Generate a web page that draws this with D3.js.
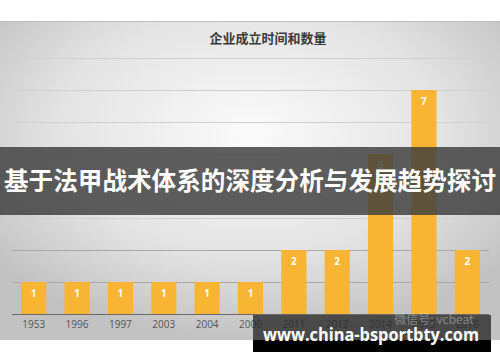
<!DOCTYPE html>
<html lang="zh">
<head>
<meta charset="utf-8">
<title>企业成立时间和数量</title>
<script src="https://cdn.jsdelivr.net/npm/d3@7/dist/d3.min.js"></script>
<style>
  body { margin: 0; background: #fff; }
  svg { display: block; }
</style>
</head>
<body>
<script>
// data
var years = ["1953", "1996", "1997", "2003", "2004", "2006", "2011", "2012", "2014", "2015", "2016"];
var counts = [1, 1, 1, 1, 1, 1, 2, 2, 5, 7, 2];
var yTicks = [0, 1, 2, 3, 4, 5, 6, 7, 8];

var W = 500, H = 362;
var cjk = "'Noto Sans CJK SC', 'Noto Sans', sans-serif";

var svg = d3.select("body").append("svg")
    .attr("width", W)
    .attr("height", H);

var defs = svg.append("defs");
var grad = defs.append("radialGradient")
    .attr("id", "panelBg")
    .attr("cx", "50%").attr("cy", "35%").attr("r", "65%");
grad.append("stop").attr("offset", "0%").attr("stop-color", "#fbfbfb");
grad.append("stop").attr("offset", "60%").attr("stop-color", "#e3e3e3");
grad.append("stop").attr("offset", "100%").attr("stop-color", "#c2c2c2");

// chart panel
svg.append("rect")
    .attr("x", 0).attr("y", 21)
    .attr("width", W).attr("height", 319)
    .attr("fill", "url(#panelBg)");
svg.append("line")
    .attr("x1", 0).attr("x2", W)
    .attr("y1", 21.5).attr("y2", 21.5)
    .attr("stroke", "#bdbdbd");

// title
svg.append("text")
    .attr("x", 268).attr("y", 43)
    .attr("text-anchor", "middle")
    .style("font-family", cjk)
    .style("font-size", "13px")
    .style("font-weight", "bold")
    .style("fill", "#3a3a3a")
    .text("企业成立时间和数量");

// scales
var x = d3.scaleBand()
    .domain(years)
    .range([12, 489])
    .paddingInner(0.42)
    .paddingOuter(0.21);

var y = d3.scaleLinear()
    .domain([0, 8])
    .range([314, 58]);

// grid
svg.append("g")
    .selectAll("line")
    .data(yTicks.slice(1))
    .enter().append("line")
    .attr("x1", 12).attr("x2", 489)
    .attr("y1", function(d) { return Math.round(y(d)) + 0.5; })
    .attr("y2", function(d) { return Math.round(y(d)) + 0.5; })
    .attr("stroke", function(d) { return d < 3 ? "#a8a8a8" : "#cfcfcf"; })
    .attr("stroke-width", 1);

// bars
svg.append("g")
    .selectAll("rect")
    .data(counts)
    .enter().append("rect")
    .attr("x", function(d, i) { return x(years[i]); })
    .attr("y", function(d) { return y(d); })
    .attr("width", x.bandwidth())
    .attr("height", function(d) { return y(0) - y(d); })
    .attr("fill", "#f8b534");

// value labels
svg.append("g")
    .selectAll("text")
    .data(counts)
    .enter().append("text")
    .attr("x", function(d, i) { return x(years[i]) + x.bandwidth() / 2; })
    .attr("y", function(d) { return y(d) + 15; })
    .attr("text-anchor", "middle")
    .style("font-family", "'Open Sans', sans-serif")
    .style("font-size", "10px")
    .style("font-weight", "bold")
    .style("fill", "#fff")
    .text(function(d) { return d; });

// x axis
var xAxis = svg.append("g")
    .attr("transform", "translate(0," + y(0) + ")")
    .call(d3.axisBottom(x).tickSize(0).tickPadding(7));
xAxis.select(".domain")
    .attr("d", "M12,0.5H489")
    .attr("stroke", "#6a6a6a")
    .attr("stroke-width", 1.2);
xAxis.selectAll("text")
    .style("font-family", "'Open Sans', sans-serif")
    .style("font-size", "10px")
    .style("fill", "#555");

// banner overlay
svg.append("rect")
    .attr("x", 0).attr("y", 147)
    .attr("width", W).attr("height", 68)
    .attr("fill", "#3c3c3c")
    .attr("fill-opacity", 0.82);
svg.append("text")
    .attr("x", W / 2).attr("y", 190)
    .attr("text-anchor", "middle")
    .attr("textLength", 492)
    .attr("lengthAdjust", "spacingAndGlyphs")
    .style("font-family", cjk)
    .style("font-size", "25px")
    .style("font-weight", "bold")
    .style("fill", "#fff")
    .text("基于法甲战术体系的深度分析与发展趋势探讨");

// bottom watermark
svg.append("rect")
    .attr("x", 253).attr("y", 315)
    .attr("width", 238).attr("height", 25)
    .attr("fill", "#2a2a2a")
    .attr("fill-opacity", 0.8);
svg.append("rect")
    .attr("x", 253).attr("y", 340)
    .attr("width", 238).attr("height", 12)
    .attr("fill", "#000");
svg.append("text")
    .attr("x", 434).attr("y", 324)
    .attr("text-anchor", "middle")
    .style("font-family", cjk)
    .style("font-size", "12px")
    .style("fill", "#fff")
    .style("fill-opacity", 0.35)
    .text("微信号: vcbeat");
svg.append("text")
    .attr("x", 371).attr("y", 341)
    .attr("text-anchor", "middle")
    .attr("textLength", 216)
    .attr("lengthAdjust", "spacingAndGlyphs")
    .style("font-family", "'Open Sans', sans-serif")
    .style("font-size", "17px")
    .style("font-weight", "bold")
    .style("fill", "#fff")
    .text("www.china-bsportbty.com");
</script>
</body>
</html>
